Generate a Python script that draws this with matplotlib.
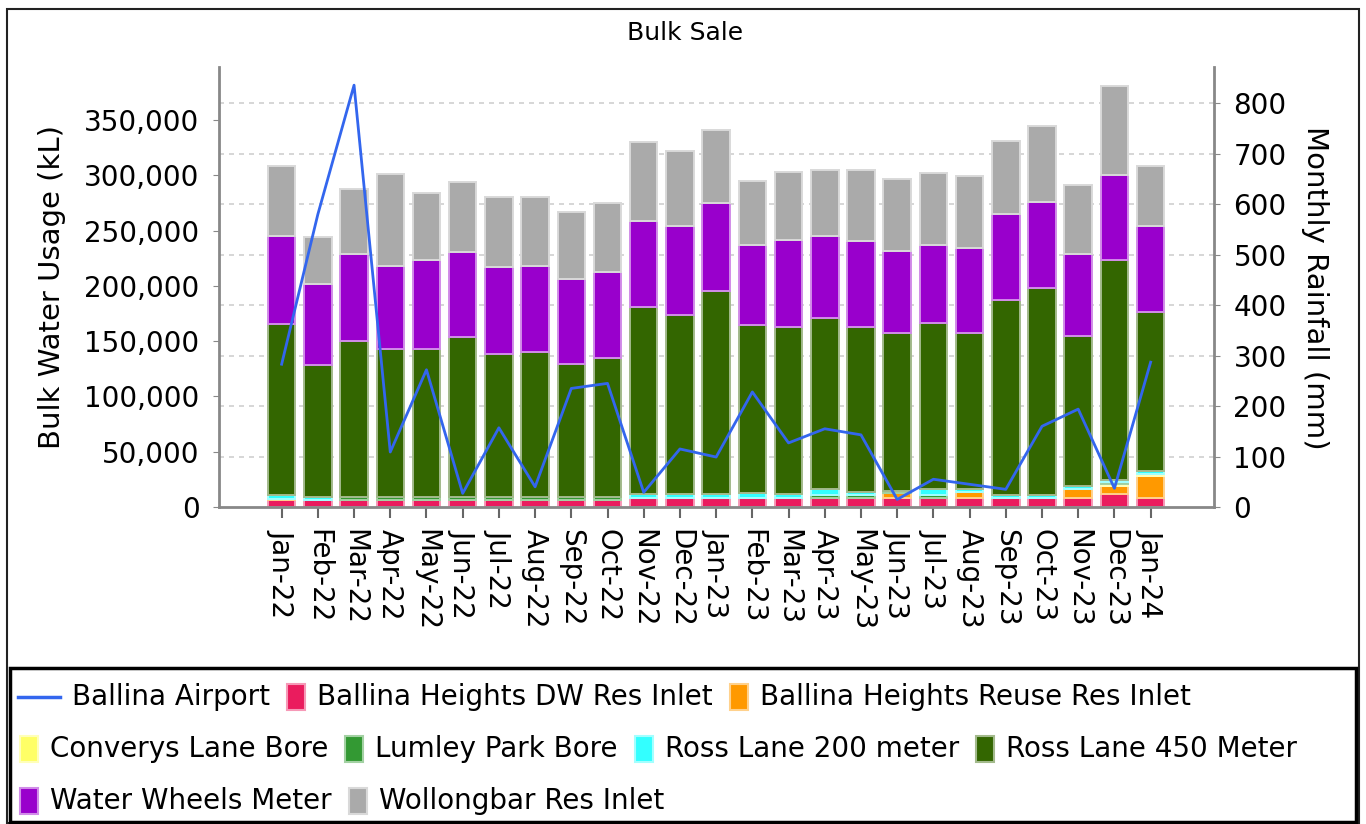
import numpy as np
import matplotlib
matplotlib.use("Agg")
import matplotlib.pyplot as plt
from matplotlib.colors import to_rgb
from matplotlib.patches import Rectangle
from matplotlib.lines import Line2D

plt.rcParams['font.family'] = ['DejaVu Sans']

months = ["Jan-22", "Feb-22", "Mar-22", "Apr-22", "May-22", "Jun-22", "Jul-22", "Aug-22",
          "Sep-22", "Oct-22", "Nov-22", "Dec-22", "Jan-23", "Feb-23", "Mar-23", "Apr-23",
          "May-23", "Jun-23", "Jul-23", "Aug-23", "Sep-23", "Oct-23", "Nov-23", "Dec-23", "Jan-24"]

# Monthly rainfall (mm) - Ballina Airport
rain_ballina_airport = [283, 580, 836, 109, 272, 27, 157, 40, 235, 245, 29, 115, 99, 228, 127,
                        155, 143, 15, 55, 45, 35, 160, 194, 37, 287]

# Bulk water usage (kL)
ballina_heights_dw = [6500, 6500, 6500, 6500, 6500, 6500, 6500, 6500, 6500, 6500, 8500, 8500, 8500,
                      8500, 8500, 8500, 8500, 8500, 8500, 8500, 8500, 8500, 8500, 11500, 8500]
ballina_heights_reuse = [1000, 0, 0, 0, 0, 0, 0, 0, 0, 0, 0, 0, 0,
                         0, 0, 0, 0, 4000, 0, 5000, 0, 0, 8000, 7500, 19500]
converys_lane_bore = [0, 0, 0, 0, 0, 0, 0, 0, 0, 0, 0, 0, 0,
                      0, 0, 0, 0, 0, 0, 0, 0, 0, 0, 2000, 2000]
lumley_park_bore = [0, 0, 2500, 2500, 2500, 2500, 2500, 2500, 2500, 2500, 0, 0, 0,
                    0, 0, 2000, 2000, 2000, 2500, 0, 0, 0, 0, 1500, 0]
ross_lane_200 = [3000, 2500, 0, 0, 0, 0, 0, 0, 0, 0, 3000, 3000, 3000,
                 4500, 3000, 5500, 3000, 0, 5000, 2500, 2500, 2500, 2500, 1500, 2500]
ross_lane_450 = [155000, 119000, 141000, 134000, 134300, 145000, 129000, 131000, 120000, 126200,
                 169700, 161800, 184300, 152000, 151000, 154600, 149000, 142500, 150400, 141000,
                 176000, 187500, 135300, 199400, 143600]
water_wheels = [79300, 73400, 78800, 74900, 80300, 76400, 78800, 77900, 77600, 77200,
                77600, 80600, 78800, 71800, 79400, 74600, 77900, 74500, 70600, 76900,
                77800, 77200, 74500, 77200, 78200]
wollongbar = [63500, 42500, 58600, 83000, 60000, 64000, 63700, 62800, 60000, 63000,
              71500, 68300, 66700, 57700, 60700, 60000, 64700, 65300, 65500, 65900,
              66000, 68700, 62900, 79800, 54300]

series_names = ["Ballina Heights DW Res Inlet", "Ballina Heights Reuse Res Inlet",
                "Converys Lane Bore", "Lumley Park Bore", "Ross Lane 200 meter",
                "Ross Lane 450 Meter", "Water Wheels Meter", "Wollongbar Res Inlet"]
series_values = [ballina_heights_dw, ballina_heights_reuse, converys_lane_bore, lumley_park_bore,
                 ross_lane_200, ross_lane_450, water_wheels, wollongbar]
series_colors = ["#ea1c5e", "#ff9900", "#ffff66", "#339933", "#33ffff", "#336600", "#9900cc", "#aaaaaa"]
line_name = "Ballina Airport"
line_color = "#3366ee"

left_ticks = [0, 50000, 100000, 150000, 200000, 250000, 300000, 350000]
right_ticks = [0, 100, 200, 300, 400, 500, 600, 700, 800]


def lighter(c, f=0.55):
    r, g, b = to_rgb(c)
    return (r + (1 - r) * f, g + (1 - g) * f, b + (1 - b) * f)


W, H = 1366, 824
fig = plt.figure(figsize=(W / 100, H / 100), dpi=100)


def fx(px):
    return px / W


def fy(py):
    return 1 - py / H


pos = [fx(219), fy(507), fx(1214) - fx(219), fy(67) - fy(507)]

# grid axis (behind bars), tied to rainfall scale
axg = fig.add_axes(pos, zorder=0)
axg.set_ylim(0, 872)
axg.set_xlim(0, 1)
axg.set_yticks(right_ticks[1:])
axg.set_xticks([])
axg.yaxis.grid(True, color="#d0d0d0", linestyle=(0, (3, 3)), linewidth=1.2)
axg.tick_params(left=False, labelleft=False)
for s in axg.spines.values():
    s.set_visible(False)

ax = fig.add_axes(pos, zorder=1)
ax.patch.set_visible(False)
x = np.arange(len(months))
bottom = np.zeros(len(months))
for name, vals, col in zip(series_names, series_values, series_colors):
    v = np.array(vals, dtype=float)
    ax.bar(x, v, bottom=bottom, width=0.76, color=col, edgecolor=lighter(col),
           linewidth=1.4, label=name)
    bottom += v

ax.set_xlim(-1.73, 25.75)
ax.set_ylim(0, 398000)
ax.set_yticks(left_ticks)
ax.set_yticklabels([f"{t:,}" for t in left_ticks])
ax.set_xticks(x)
ax.set_xticklabels(months, rotation=270)
ax.tick_params(axis="y", length=4, color="#888888", labelsize=20, pad=10)
ax.tick_params(axis="x", length=8, width=1.5, color="#666666", labelsize=20, pad=8)
for k in ["top", "right"]:
    ax.spines[k].set_visible(False)
for k in ["left", "bottom"]:
    ax.spines[k].set_color("#888888")
    ax.spines[k].set_linewidth(2)

ax2 = ax.twinx()
ax2.set_zorder(2)
ax2.plot(x, rain_ballina_airport, color=line_color, linewidth=2)
ax2.set_ylim(0, 872)
ax2.set_yticks(right_ticks)
ax2.tick_params(axis="y", length=4, color="#888888", labelsize=20, pad=10)
for k in ["top", "left", "bottom"]:
    ax2.spines[k].set_visible(False)
ax2.spines["right"].set_color("#888888")
ax2.spines["right"].set_linewidth(2)

# titles / axis labels
fig.text(fx(685), fy(33), "Bulk Sale", fontsize=18, ha="center", va="center")
fig.text(fx(52), fy(287), "Bulk Water Usage (kL)", fontsize=21, rotation=90, ha="center", va="center")
fig.text(fx(1315), fy(288), "Monthly Rainfall (mm)", fontsize=21, rotation=270, ha="center", va="center")

# borders
fig.add_artist(Rectangle((fx(7), fy(823)), fx(1359) - fx(7), fy(9) - fy(823),
                         transform=fig.transFigure, fill=False, edgecolor="#222222", linewidth=1.5))
fig.add_artist(Rectangle((fx(10), fy(822)), fx(1356) - fx(10), fy(668) - fy(822),
                         transform=fig.transFigure, fill=False, edgecolor="#000000", linewidth=2.5))

# legend with flow layout
renderer = fig.canvas.get_renderer()
entries = [(line_name, line_color, "line")] + [(n, c, "box") for n, c in zip(series_names, series_colors)]
row_y = [697, 749, 801]
row = 0
cx = 18
for name, col, kind in entries:
    hw = 42 if kind == "line" else 18
    t = fig.text(0, 0, name, fontsize=20, ha="left", va="center")
    tw = t.get_window_extent(renderer).width
    total = hw + 12 + tw
    if cx + total > 1345 and cx > 20:
        row += 1
        cx = 20
    yy = row_y[row]
    if kind == "line":
        fig.add_artist(Line2D([fx(cx), fx(cx + hw)], [fy(yy), fy(yy)], color=col, linewidth=2.5,
                              transform=fig.transFigure))
    else:
        fig.add_artist(Rectangle((fx(cx), fy(yy + 13)), hw / W, 26 / H, transform=fig.transFigure,
                                 facecolor=col, edgecolor=lighter(col), linewidth=1.5))
    t.set_position((fx(cx + hw + 12), fy(yy)))
    cx += total + 17

fig.savefig("out.png", dpi=100)
